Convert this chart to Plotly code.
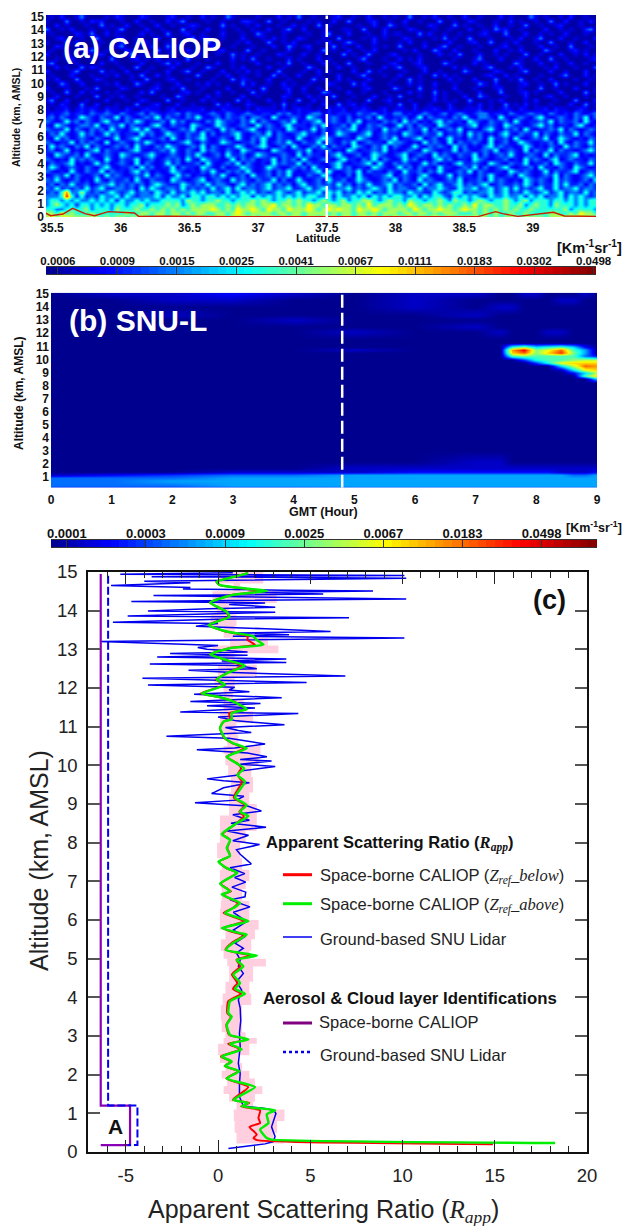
import plotly.graph_objects as go

W, H = 624, 1226
SANS = "Liberation Sans"
SERIF = "Liberation Serif"

# ---------- panel (a): attenuated backscatter, level per cell ----------
a_levels = """
0102001300 0010210002 1000120010 0201003100 0010002010 3001000120 0100200101 0030010200 1002001000 2010003101 0010200100
1000300102 1200010020 0100201300 0010010002 2100300100 0010100200 3000120010 0200100030 0100210001 0020100100 3002001020
0020100010 0301002001 0020010012 1000030100 1020001002 0100301000 0010020031 0100002100 0301001002 0010030010 0120001000
3001020001 0010130000 2001000301 0020010010 0100200130 0200010001 1003000200 0021000100 1000200103 1200100002 0010100230
0100002103 0020100002 0100300120 0100020001 0031000100 0010013000 2000100201 1000302001 0010001200 0300020010 1002000100
0012000100 3000120010 0020010003 0210010002 0001020100 2100010030 0001020100 0210000103 0100300010 0010200130 0020010002
1000302000 0100020013 1000100200 0030100010 2000300102 0000102001 3100020000 1020010000 2000120030 0102000100 3000100200
0021001000 2000130010 0200301000 1002000100 0100020031 0120000301 0020010100 3000020013 0010001000 1200100020 0100300010
0100200103 0010002100 0030100020 0100120000 3001000020 0010030100 2001020000 0102000310 0200010002 0010200003 1000120100
2000300010 1200000301 0100020001 2000100301 0010002100 0200100003 0100300012 0000100020 1030002001 0100030010 0020010201
0010120001 0003000120 1020010030 0010000201 0300100020 1000201000 0013000100 2010200000 0100013000 2000100200 3001000012
1300001000 0200100002 0001302000 1000200100 0020001030 0100020100 3000100012 0001200003 1000020100 0003100020 0100200100
0020100302 1000010030 0100020001 0031000102 0000200100 0031000020 0100000201 3000120000 0201000130 0010200001 0200010003
2000013000 0301002000 1000200130 0100020010 2010003000 0100201000 0200301000 0100020010 0003100002 1000130000 2001000200
0100020001 0010200103 0020100000 3000102001 0010030100 2000100020 0013000100 2000100302 0100000120 0201000010 0013000201
1020003000 2100000100 3000120010 0001000302 1000200010 0003010020 1000200001 0030100000 2010020003 0010300100 2000010010
0003100200 0010200031 0010002000 1020100003 0200100201 0010002100 0302000010 0020100200 0100003102 0000120010 0301000200
2000100010 3000021000 0120010300 0100002000 1003000120 0200100010 0001200003 1000300100 0200010001 2000100030 0100020001
0100300201 0010100002 0300000120 1000200100 0301000020 0100032000 2001000100 0020100301 0010002000 3000120100 0020000301
0020001000 3001020010 0001003100 0020100002 0010000210 0020100300 0100020010 3000100201 0002003100 0100020001 2001000100
1300200010 0020001002 1000300100 0201000030 1000200100 3002010000 1000300120 0010000201 0100300010 2000010200 0100030002
0102100300 2000100030 0120002001 0000302000 2100010301 0010020030 1201000010 3002001000 2000102010 0301020100 1000200301
1011201212 1021102101 2110120111 1201021110 1021110201 2110102112 0112101201 1102011210 2101112010 1210210112 0211012101
1212312213 2232132123 1321223132 2123213212 3212213231 2123312122 2132231213 3121232123 1232123312 2132123221 3212132123
2313212432 1322413212 3241322132 4212313223 1332142123 2143212321 3122314212 2312413222 1324213321 4212321342 1232132413
3212423132 1342213243 1223142312 2132432213 2413212324 1223412321 3241221323 1423121342 3221432132 2314212232 4132231421
2143212332 4123241322 1342132214 3212432123 2142321342 2213241223 1421323212 4231322143 2122341232 1432212342 3122134212
3222413213 2314221342 4213212324 1232142312 3421322143 1224131232 3412321423 2132241312 3241221342 1323142122 3241321232
1324212423 1242312214 2312432132 2413122342 1232413212 3422131243 2123412322 1432132241 2231423121 3421322413 2132241321
2142312321 3212412342 1223142132 3421232142 1324213221 4212343212 2143212324 1223412312 4221323142 2314212324 1243212132
3212241323 2141232132 4312212342 1321243212 2314123242 1322413213 2412322143 3212142321 4132232141 2312432122 3142132241
1423213241 3212323142 2132432123 2413212243 1234212314 2123241322 1432132413 2124213232 1423121342 3221243121 3214232132
2312412123 4132212342 1223242132 1423213214 3212143212 3241223121 4312232412 1232143212 2413212324 1232141322 4132212342
2143223142 1232143212 3421232132 4212314223 1243212321 4132212342 1231243212 3412321423 2132241312 3242123214 1322341212
3212142323 2142132241 2312323142 1432212413 2312241323 1421232134 2213241321 2423121342 3122143212 2312142321 3412322132
1322341212 4231232141 3212423122 3142123241 3212142322 4132212342 1223414213 2321242312 1342232143 2132241223 1432132241
2431232132 1342122314 2312241322 1432131224 3212432123 2314221342 3122143212 4231322142 2123241312 3421223142 2132143212
3212142132 2413221342 3121243212 1324213232 4212313242 1223414212 3241322132 1422313242 1232413212 2143232124 1322341232
1232413212 3142321232 4132124231 2213242123 1422313241 2132243121 3142122341 2321342122 4132213242 1231432123 2413212342
3242123121 4213223142 1322143212 3412321423 2132241312 4212314223 1243212324 1321423212 3241223142 3212143232 1423212314
2313242231 2334232323 1343222432 3242332134 2323423231 3422323242 3132422342 3223142342 2342323412 3223243132 2424223132
3242323242 3422332314 2432332423 2324234242 3323423342 2342343233 4232343242 3322423343 2243342342 3424232342 2423342332
2324733532 3234323423 3243242334 3423324234 3423234323 4233424342 3243423243 3243322432 3442323342 3423243234 2342332423
3334842423 2433424323 3342433424 4344343434 4243434343 4344334243 3434243434 4334243443 2434343243 3433424342 3342434323
3443434334 3434243343 4334444354 4344544344 4545434454 5443454345 3445543454 4354434454 3544345434 4543453444 3443434344
3454342443 4343443445 3444545345 4555445454 5545564554 5465545545 5454645554 5465455454 5445464554 4544534544 3544434344
4433444453 4443544454 4545454545 5556545465 5654655465 5565456565 5465565455 5546545565 5456554545 4545445444 4445344443
5546454445 4444445445 5455455454 5544554565 4555545545 5455554545 5455454555 4554554545 5544454545 4454454444 5544546554
5655655555 5454554555 4455455545 5455554555 5545554555 5455455545 5455554545 5455545554 5455555545 4555455554 5565565555
"""

a_level_z = [-7.5, -7.2, -6.95, -6.55, -5.75, -5.2, -4.7, -4.3, -3.8, -3.4]   # ln(beta) per level
a_z_min, a_z_max = -7.6, -2.98
a_tick_vals = [-7.5, -7.0, -6.5, -6.0, -5.5, -5.0, -4.5, -4.0, -3.5, -3.0]
a_tick_text = ["0.0006", "0.0009", "0.0015", "0.0025", "0.0041", "0.0067", "0.0111", "0.0183", "0.0302", "0.0498"]
a_x_ticks = [35.5, 36, 36.5, 37, 37.5, 38, 38.5, 39]
a_x_text = ["35.5", "36", "36.5", "37", "37.5", "38", "38.5", "39"]
terrain_lat = [35.45, 35.49, 35.58, 35.65, 35.74, 35.81, 35.91, 35.99, 36.10, 36.13, 36.33, 36.8, 37.5, 38.19, 38.6, 38.73, 38.78, 38.89, 39.0, 39.15, 39.23, 39.46]
terrain_alt = [0.30, 0.10, 0.22, 0.65, 0.25, 0.10, 0.40, 0.35, 0.30, 0.05, 0.06, 0.02, 0.02, 0.06, 0.03, 0.40, 0.25, 0.05, 0.20, 0.35, 0.08, 0.05]

# ---------- panel (b): SNU lidar ----------
b_hours = [0, 1, 2, 3, 4, 5, 6, 7, 7.4, 7.6, 7.8, 8.0, 8.2, 8.4, 8.6, 8.8, 9.0]
b_alts = [0.2, 0.35, 0.7, 1.0, 1.2, 1.4, 1.7, 2.2, 3, 5, 7, 8.25, 8.5, 8.75, 9.0, 9.25, 9.5, 9.75, 10.0, 10.25, 10.5, 10.75, 11.0, 11.25, 11.6, 12.1, 12.5, 13.0, 13.4, 14.0, 14.6, 15.0]
b_levels = [
    [2, 2, 2, 2, 2, 3, 3, 3, 3, 3, 3, 3, 3, 3, 3, 3, 3],
    [4, 4, 4, 5, 5, 5, 5, 5, 5, 5, 5, 5, 5, 5, 5, 5, 5],
    [4, 4, 5, 5, 5, 5, 5, 5, 5, 5, 5, 5, 5, 5, 5, 5, 5],
    [4, 4, 4, 5, 5, 5, 5, 5, 5, 5, 5, 5, 5, 5, 5, 5, 5],
    [1, 2, 3, 4, 4, 5, 5, 5, 5, 5, 5, 5, 5, 5, 4, 4, 5],
    [0, 0, 0, 1, 1, 1, 2, 2, 2, 2, 2, 2, 2, 1, 1, 1, 2],
    [0, 0, 0, 0, 0, 1, 1, 1, 1, 1, 1, 1, 1, 1, 1, 1, 1],
    [0, 0, 0, 0, 0, 0, 0, 1, 1, 0, 0, 0, 0, 0, 0, 0, 0],
    [0, 0, 0, 0, 0, 0, 0, 0, 0, 0, 0, 0, 0, 0, 0, 0, 0],
    [0, 0, 0, 0, 0, 0, 0, 0, 0, 0, 0, 0, 0, 0, 0, 0, 0],
    [0, 0, 0, 0, 0, 0, 0, 0, 0, 0, 0, 0, 0, 0, 0, 0, 0],
    [0, 0, 0, 0, 0, 0, 0, 0, 0, 0, 0, 0, 0, 0, 0, 0, 0],
    [0, 0, 0, 0, 0, 0, 0, 0, 0, 0, 0, 0, 0, 0, 0, 0, 6],
    [0, 0, 0, 0, 0, 0, 0, 0, 0, 0, 0, 0, 0, 0, 0, 8, 12],
    [0, 0, 0, 0, 0, 0, 0, 0, 0, 0, 0, 0, 0, 0, 2, 6, 10],
    [0, 0, 0, 0, 0, 0, 0, 0, 0, 0, 0, 0, 0, 1, 6, 11, 12],
    [0, 0, 0, 0, 0, 0, 0, 0, 0, 0, 0, 0, 0, 6, 10, 14, 13],
    [0, 0, 0, 0, 0, 0, 0, 0, 0, 0, 0, 3, 7, 11, 12, 12, 12],
    [0, 0, 0, 0, 0, 0, 0, 0, 0, 0, 3, 7, 8, 8, 9, 10, 10],
    [0, 0, 0, 0, 0, 0, 0, 0, 0, 8, 9, 8, 8, 8, 8, 4, 2],
    [0, 0, 0, 0, 0, 0, 0, 0, 0, 12, 14, 9, 12, 15, 9, 5, 0],
    [0, 0, 0, 0, 0, 1, 0, 0, 0, 13, 16, 9, 11, 14, 8, 5, 0],
    [0, 0, 0, 0, 0, 0, 0, 0, 0, 7, 9, 6, 7, 8, 6, 2, 0],
    [0, 0, 0, 0, 0, 0, 0, 0, 0, 0, 0, 0, 0, 0, 0, 0, 0],
    [0, 0, 0, 0, 0, 0, 0, 0, 0, 0, 0, 0, 0, 0, 0, 0, 0],
    [0, 0, 0, 0, 0, 1, 0, 0, 1, 0, 0, 0, 1, 1, 0, 0, 0],
    [0, 0, 0, 0, 0, 0, 0, 1, 0, 0, 0, 0, 0, 0, 0, 0, 0],
    [0, 0, 0, 0, 1, 0, 0, 0, 0, 0, 0, 0, 0, 0, 0, 0, 0],
    [0, 0, 1, 0, 0, 0, 0, 1, 0, 0, 0, 0, 0, 0, 0, 0, 0],
    [0, 0, 0, 0, 0, 0, 1, 0, 1, 1, 0, 0, 0, 0, 0, 0, 0],
    [0, 0, 1, 1, 0, 0, 1, 0, 0, 0, 0, 0, 0, 1, 1, 0, 0],
    [0, 1, 1, 2, 1, 0, 1, 1, 0, 0, 1, 1, 0, 0, 0, 1, 0],
]
b_level_z0 = -9.2
b_level_step = 0.375
b_z_min, b_z_max = -9.2, -2.3
b_tick_vals = [-9, -8, -7, -6, -5, -4, -3]
b_tick_text = ["0.0001", "0.0003", "0.0009", "0.0025", "0.0067", "0.0183", "0.0498"]
b_x_ticks = [0, 1, 2, 3, 4, 5, 6, 7, 8, 9]
b_y_ticks = list(range(1, 16))

# ---------- panel (c): profiles ----------
snu_alt = [14.98, 14.94, 14.91, 14.88, 14.84, 14.79, 14.76, 14.72, 14.65, 14.6, 14.56, 14.53, 14.51, 14.47, 14.43, 14.39, 14.3, 14.24, 14.2, 14.16, 14.13, 14.09, 14.05, 13.99, 13.96, 13.9, 13.86, 13.82, 13.78, 13.7, 13.67, 13.6, 13.56, 13.53, 13.46, 13.42, 13.38, 13.34, 13.29, 13.24, 13.2, 13.13, 13.1, 13.05, 13.0, 12.93, 12.89, 12.85, 12.8, 12.75, 12.7, 12.66, 12.62, 12.58, 12.5, 12.46, 12.4, 12.31, 12.27, 12.25, 12.14, 12.08, 12.02, 11.95, 11.9, 11.84, 11.75, 11.65, 11.6, 11.54, 11.48, 11.38, 11.34, 11.25, 11.15, 11.05, 10.98, 10.9, 10.85, 10.75, 10.7, 10.55, 10.45, 10.4, 10.32, 10.22, 10.15, 10.11, 10.03, 9.97, 9.85, 9.75, 9.65, 9.6, 9.55, 9.42, 9.27, 9.2, 9.1, 9.03, 8.95, 8.82, 8.72, 8.58, 8.5, 8.4, 8.3, 8.19, 8.05, 7.95, 7.82, 7.7, 7.45, 7.35, 7.2, 7.1, 6.98, 6.85, 6.72, 6.6, 6.52, 6.34, 6.2, 5.96, 5.74, 5.57, 5.4, 5.27, 5.15, 4.97, 4.8, 4.62, 4.4, 4.19, 3.93, 3.72, 3.4, 3.07, 2.72, 2.29, 2.03, 1.77, 1.43, 1.19, 1.13, 1.08, 1.0, 0.65, 0.4, 0.27, 0.21, 0.14, 0.09]
snu_x = [0.8, -5.3, 10.1, -3.6, 10.2, 0.2, -4.0, -1.5, -5.8, -1.5, -1.9, 3.5, 8.4, 2.0, 5.7, -3.5, 10.2, -4.7, 2.55, 0.6, 1.6, 3.1, -0.5, -3.8, 3.1, -1.0, -4.9, 7.1, 0.0, -5.7, 0.0, -1.2, 1.6, 2.6, 6.1, 1.0, 3.85, 0.8, 10.1, -0.5, -6.4, -1.9, 0.0, -1.1, -0.6, 1.6, -2.6, 1.6, -3.3, 3.7, 0.2, 3.7, -3.7, 1.0, 2.1, -1.6, 0.8, 6.9, -0.2, -4.1, 4.8, -3.8, 0.9, 0.6, 1.7, -1.3, 3.45, -1.5, 2.3, -0.6, 2.0, -2.05, 4.35, 0.0, 1.0, 3.6, 0.4, 1.1, 1.8, -2.8, 0.6, 2.55, 0.9, -1.15, 1.6, 2.65, 1.2, 2.9, 1.2, 3.1, 1.2, 1.1, -0.6, 0.3, 1.7, 0.3, -0.35, 1.4, 1.0, -1.25, 1.6, 2.35, 0.8, 1.7, 0.7, 2.6, 0.5, 1.65, 0.8, 2.25, 1.0, 1.2, 1.8, 0.65, 1.45, 0.9, 1.5, 0.75, 1.5, 1.46, 0.65, 1.73, 0.83, 1.55, 0.83, 1.46, 0.92, 1.37, 1.0, 1.2, 1.1, 1.37, 1.0, 1.28, 1.1, 1.2, 1.23, 1.16, 1.2, 1.1, 1.2, 1.16, 1.16, 1.37, 2.46, 3.0, 3.14, 2.9, 3.09, 3.0, 2.55, 1.55, 0.56]

above_alt = [14.97, 14.88, 14.75, 14.66, 14.51, 14.41, 14.21, 13.97, 13.84, 13.63, 13.46, 13.34, 13.24, 13.12, 13.03, 12.87, 12.72, 12.58, 12.38, 12.22, 12.08, 11.86, 11.76, 11.65, 11.45, 11.35, 11.19, 11.13, 10.96, 10.70, 10.57, 10.44, 10.22, 10.05, 9.92, 9.75, 9.58, 9.17, 8.97, 8.80, 8.69, 8.50, 8.22, 8.07, 7.86, 7.66, 7.51, 7.34, 7.22, 6.94, 6.74, 6.66, 6.44, 6.31, 6.18, 5.97, 5.79, 5.66, 5.62, 5.41, 5.23, 5.08, 4.97, 4.80, 4.59, 4.37, 4.22, 4.09, 3.90, 3.59, 3.50, 3.29, 3.03, 2.91, 2.80, 2.65, 2.47, 2.34, 2.22, 2.09, 1.90, 1.68, 1.35, 1.27, 1.18, 1.08, 0.97, 0.75, 0.58, 0.36, 0.32, 0.23]
above_x = [1.64, 0.92, -0.07, 0.11, 2.64, 0.83, -0.43, 0.47, 0.61, -0.52, 0.47, 1.9, 2.1, 2.46, 0.65, -0.43, 0.47, 1.46, 0.47, -0.07, 0.38, -0.89, 0.11, 0.83, 1.55, 0.74, 0.74, 0.29, 0.11, 0.38, 0.83, 1.55, 0.47, 1.01, 1.41, 1.05, 1.46, 0.92, 1.55, 1.19, 1.64, 1.01, 0.2, 0.65, 0.47, 0.65, 0.02, 0.47, 1.05, 0.11, 0.65, 0.2, 1.19, 0.83, 0.38, 1.64, 0.2, 1.19, 1.55, 0.83, 0.43, 2.1, 1.01, 1.37, 0.83, 1.19, 0.92, 1.46, 0.65, 0.56, 0.74, 0.47, 0.65, 1.64, 0.65, 1.28, 0.2, 0.74, 0.38, 1.16, 0.47, 2.0, 0.83, 1.64, 1.28, 3.09, 2.64, 2.73, 2.28, 2.64, 2.9, 18.27]

below_alt = [14.97, 14.88, 14.75, 14.66, 14.51, 14.41, 14.21, 13.97, 13.84, 13.63, 13.46, 13.34, 13.24, 13.12, 13.03, 12.87, 12.72, 12.58, 12.38, 12.22, 12.08, 11.86, 11.76, 11.65, 11.45, 11.35, 11.19, 11.13, 10.96, 10.70, 10.57, 10.44, 10.22, 10.05, 9.92, 9.75, 9.58, 9.17, 8.97, 8.80, 8.69, 8.50, 8.22, 8.07, 7.86, 7.66, 7.51, 7.34, 7.22, 6.94, 6.74, 6.66, 6.44, 6.31, 6.18, 5.97, 5.79, 5.66, 5.62, 5.41, 5.23, 5.08, 4.97, 4.80, 4.59, 4.37, 4.22, 4.09, 3.90, 3.59, 3.50, 3.29, 3.03, 2.91, 2.80, 2.65, 2.47, 2.34, 2.22, 2.09, 1.90, 1.68, 1.35, 1.27, 1.18, 1.08, 0.88, 0.75, 0.65, 0.45, 0.36, 0.30, 0.20]
below_x = [1.6, 0.9, -0.1, 0.1, 2.3, 0.8, -0.45, 0.45, 0.55, -0.5, 0.4, 1.6, 1.6, 2.0, 0.6, -0.45, 0.45, 1.25, 0.45, -0.1, 0.35, -0.95, 0.1, 0.85, 1.5, 0.6, 0.65, 0.3, 0.1, 0.35, 0.8, 1.4, 0.45, 1.05, 1.25, 1.05, 1.3, 0.85, 1.45, 1.15, 1.4, 1.0, 0.25, 0.65, 0.5, 0.65, 0.05, 0.45, 1.0, 0.15, 0.7, 0.25, 1.05, 0.8, 0.3, 1.4, 0.25, 1.0, 1.45, 0.75, 0.4, 1.73, 1.0, 1.2, 0.75, 1.05, 0.8, 1.25, 0.55, 0.5, 0.7, 0.45, 0.6, 1.6, 0.55, 1.2, 0.15, 0.7, 0.35, 1.1, 0.45, 1.64, 0.8, 1.7, 1.25, 2.28, 2.19, 2.28, 1.7, 2.1, 1.92, 2.19, 14.9]

band_alt = [0.22, 0.28, 0.5, 0.8, 1.1, 1.3, 1.5, 1.7, 1.9, 2.1, 2.3, 2.5, 2.8, 2.95, 3.1, 3.4, 3.8, 4.1, 4.4, 4.8, 5.0, 5.2, 5.5, 5.75, 6.0, 6.3, 6.5, 6.8, 7.0, 7.3, 7.6, 8.0, 8.3, 8.7, 9.0, 9.3, 9.7, 10.0, 10.3, 10.5, 10.8, 11.0, 11.1, 11.4, 11.7, 12.0, 12.3, 12.6, 12.9, 13.1, 13.3, 13.6, 13.9, 14.2, 14.5, 14.7, 15.0]
band_left = [1.0, 1.0, 0.9, 0.85, 1.0, 0.6, 0.3, 0.5, 0.2, 0.4, 0.1, 0.0, 0.3, 0.4, 0.2, 0.15, 0.25, 0.4, 0.6, 0.5, 0.3, 0.15, 0.4, 0.1, 0.1, 0.15, 0.2, 0.15, 0.1, 0.2, -0.05, 0.1, 0.1, 0.6, 0.6, 0.7, 0.55, 0.4, 0.3, 0.5, 0.2, 0.1, 0.1, 0.3, 0.3, -0.2, 0.0, 0.3, -0.3, 0.65, 0.3, -0.4, -0.07, -0.3, 0.83, 0.0, 0.3]
band_right = [15.0, 3.6, 3.0, 3.2, 3.6, 1.9, 2.0, 2.4, 2.0, 1.7, 1.3, 1.1, 1.7, 2.1, 1.5, 1.3, 1.3, 1.8, 1.7, 1.9, 2.6, 1.7, 1.8, 2.0, 2.2, 1.7, 1.7, 1.3, 1.5, 1.7, 1.3, 1.2, 1.5, 2.1, 2.1, 1.7, 1.9, 1.8, 2.2, 2.3, 1.1, 1.0, 1.0, 1.9, 1.4, 0.8, 0.9, 2.1, 0.9, 3.27, 2.7, 0.9, 1.0, 0.6, 3.18, 1.2, 2.45]

caliop_layer_x = [-6.36, -6.36, -4.77, -4.77, -6.36]
caliop_layer_alt = [14.95, 1.2, 1.2, 0.18, 0.18]
snu_layer_x = [-5.96, -5.96, -4.37, -4.37, -4.9]
snu_layer_alt = [14.9, 1.2, 1.2, 0.18, 0.18]
c_y_ticks = list(range(0, 16))
c_x_ticks = [-5, 0, 5, 10, 15, 20]
c_x_text = ["-5", "0", "5", "10", "15", "20"]

# ---------- helpers: pixel placement in the 624x1226 window ----------
def dom_x(a, b):
    return [a / W, b / W]

def dom_y(top, bottom):
    return [1 - bottom / H, 1 - top / H]

def bold(values):
    return ["<b>%s</b>" % v for v in values]

JET = [[0, "#00008f"], [0.11, "#0000ff"], [0.36, "#00ffff"], [0.61, "#ffff00"], [0.86, "#ff0000"], [1, "#800000"]]

rows = ["".join(r.split()) for r in a_levels.strip().splitlines()]
n_cols = min(len(r) for r in rows)
a_z = [[a_level_z[int(c)] for c in r[:n_cols]] for r in rows]
n_rows = len(a_z)
a_dy = 15.0 / (n_rows - 1)
b_z = [[b_level_z0 + b_level_step * v for v in r] for r in b_levels]

def bar_steps(lo, hi, n=64):
    return [lo + (i + 0.5) * (hi - lo) / n for i in range(n)]

fig = go.Figure()

fig.add_trace(go.Heatmap(
    z=a_z, x0=35.456, dx=(39.46 - 35.456) / (n_cols - 1), y0=15.0, dy=-a_dy, zsmooth="best",
    colorscale=JET, zmin=a_z_min, zmax=a_z_max, xaxis="x", yaxis="y", hoverinfo="skip", showscale=False))
fig.add_trace(go.Scatter(x=terrain_lat, y=terrain_alt, mode="lines", line=dict(color="#c81e00", width=1.4),
                         xaxis="x", yaxis="y", showlegend=False, hoverinfo="skip"))
fig.add_trace(go.Scatter(x=[37.5, 37.5], y=[0, 15.1], mode="lines", line=dict(color="white", width=2.5, dash="13px,5px"),
                         xaxis="x", yaxis="y", showlegend=False, hoverinfo="skip"))

fig.add_trace(go.Heatmap(
    z=b_z, x=b_hours, y=b_alts, zsmooth="best", colorscale=JET, zmin=b_z_min, zmax=b_z_max,
    xaxis="x2", yaxis="y2", hoverinfo="skip", showscale=False))
fig.add_trace(go.Scatter(x=[4.8, 4.8], y=[0.2, 15.1], mode="lines", line=dict(color="white", width=2.5, dash="13px,5px"),
                         xaxis="x2", yaxis="y2", showlegend=False, hoverinfo="skip"))

# colour keys
a_steps = bar_steps(a_z_min, a_z_max)
b_steps = bar_steps(b_z_min, b_z_max)
fig.add_trace(go.Heatmap(z=[a_steps], x=a_steps, y=[0.5], colorscale=JET, zmin=a_z_min, zmax=a_z_max,
                         xaxis="x4", yaxis="y4", hoverinfo="skip", showscale=False))
fig.add_trace(go.Heatmap(z=[b_steps], x=b_steps, y=[0.5], colorscale=JET, zmin=b_z_min, zmax=b_z_max,
                         xaxis="x5", yaxis="y5", hoverinfo="skip", showscale=False))

fig.add_trace(go.Scatter(x=band_left + band_right[::-1], y=band_alt + band_alt[::-1], mode="lines", fill="toself",
                         fillcolor="#ffcfe0", line=dict(width=0, shape="vh"), xaxis="x3", yaxis="y3",
                         showlegend=False, hoverinfo="skip"))
fig.add_trace(go.Scatter(x=snu_x, y=snu_alt, mode="lines", line=dict(color="#0000ee", width=1.5), xaxis="x3", yaxis="y3",
                         showlegend=False, hoverinfo="skip"))
fig.add_trace(go.Scatter(x=below_x, y=below_alt, mode="lines", line=dict(color="#ff0000", width=2, shape="spline", smoothing=0.5), xaxis="x3", yaxis="y3",
                         showlegend=False, hoverinfo="skip"))
fig.add_trace(go.Scatter(x=above_x, y=above_alt, mode="lines", line=dict(color="#00ee00", width=2.5, shape="spline", smoothing=0.5), xaxis="x3", yaxis="y3",
                         showlegend=False, hoverinfo="skip"))
fig.add_trace(go.Scatter(x=caliop_layer_x, y=caliop_layer_alt, mode="lines", line=dict(color="#8a00b8", width=2.2), xaxis="x3", yaxis="y3",
                         showlegend=False, hoverinfo="skip"))
fig.add_trace(go.Scatter(x=snu_layer_x, y=snu_layer_alt, mode="lines", line=dict(color="#0000ee", width=2, dash="8px,3px"), xaxis="x3", yaxis="y3",
                         showlegend=False, hoverinfo="skip"))

def text(x, y, s, size, bold_=False, color="#111111", anchor="left", angle=0, family=SANS):
    fig.add_annotation(xref="paper", yref="paper", x=x / W, y=1 - y / H, text=("<b>%s</b>" % s) if bold_ else s, showarrow=False,
                       xanchor=anchor, yanchor="middle", textangle=angle, borderpad=0,
                       font=dict(family=family, size=size, color=color))

text(62, 47, "(a) CALIOP", 30, True, "white")
text(68, 320, "(b) SNU-L", 30, True, "white")
text(16, 118, "Altitude (km, AMSL)", 10.5, True, anchor="center", angle=-90)
text(19, 393, "Altitude (km, AMSL)", 12, True, anchor="center", angle=-90)
text(318, 238, "Latitude", 11.5, True, anchor="center")
text(323, 512, "GMT (Hour)", 12.5, True, anchor="center")
text(623, 247, "[Km<sup>-1</sup>sr<sup>-1</sup>]", 14.5, True, anchor="right")
text(623, 527, "[Km<sup>-1</sup>sr<sup>-1</sup>]", 12.5, True, anchor="right")

text(39, 861, "Altitude (km, AMSL)", 25, anchor="center", angle=-90, color="#222222")
serif_i = '<span style="font-family:Liberation Serif"><i>%s</i></span>'
text(147, 1211, "Apparent Scattering Ratio (" + serif_i % "R<sub>app</sub>" + ")", 25, color="#222222")
text(532, 600, "(c)", 27, True)
text(107, 1126, "A", 21, True)

text(265, 843.5, "Apparent Scattering Ratio (" + serif_i % "R<sub>app</sub>" + ")", 16.5, True)
text(319, 876, "Space-borne CALIOP (" + serif_i % "Z<sub>ref</sub>_below" + ")", 16.5, color="#222222")
text(319, 905, "Space-borne CALIOP (" + serif_i % "Z<sub>ref</sub>_above" + ")", 16.5, color="#222222")
text(319, 939, "Ground-based SNU Lidar", 16.5, color="#222222")
text(262, 998, "Aerosol &amp; Cloud layer Identifications", 16.8, True)
text(318, 1022, "Space-borne CALIOP", 16.5, color="#222222")
text(319, 1055, "Ground-based SNU Lidar", 16.5, color="#222222")

def key(y, color, width, dash="solid"):
    fig.add_shape(type="line", xref="paper", yref="paper", x0=283 / W, x1=312 / W, y0=1 - y / H, y1=1 - y / H,
                  line=dict(color=color, width=width, dash=dash))

key(874.7, "#ff0000", 3)
key(903.7, "#00ee00", 3)
key(937, "#0000ee", 1.5)
key(1023, "#800080", 3)
key(1052, "#0000ee", 2.5, "dot")

f12 = dict(family=SANS, size=12, color="#111111")
c_font = dict(family=SANS, size=18.5, color="#222222")
bar_axis = dict(side="top", ticks="inside", ticklen=7, tickwidth=1, tickcolor="#333333", showgrid=False, zeroline=False,
                showline=True, linecolor="#333333", linewidth=1, mirror=True, ticklabelstandoff=-4)
fig.update_layout(
    width=W, height=H, margin=dict(l=0, r=0, t=0, b=0, autoexpand=False), paper_bgcolor="white", plot_bgcolor="white", showlegend=False,
    xaxis=dict(domain=dom_x(46, 596), range=[35.456, 39.46], tickvals=a_x_ticks, ticktext=bold(a_x_text), tickfont=f12,
               ticks="", showgrid=False, zeroline=False, ticklabelstandoff=2, anchor="y"),
    yaxis=dict(domain=dom_y(15, 217), range=[0, 15.13], tickvals=list(range(16)), ticktext=bold(range(16)), tickfont=f12,
               ticks="", showgrid=False, zeroline=False, ticklabelstandoff=1, anchor="x"),
    xaxis2=dict(domain=dom_x(51, 597), range=[0, 9], tickvals=b_x_ticks, ticktext=bold(b_x_ticks), tickfont=f12,
                ticks="", showgrid=False, zeroline=False, ticklabelstandoff=3, anchor="y2"),
    yaxis2=dict(domain=dom_y(292.7, 487.7), range=[0.2, 15.1], tickvals=b_y_ticks, ticktext=bold(b_y_ticks), tickfont=f12,
                ticks="", showgrid=False, zeroline=False, ticklabelstandoff=1, anchor="x2"),
    xaxis3=dict(domain=dom_x(88, 587), range=[-7.05, 20], tickvals=c_x_ticks, ticktext=c_x_text, tickfont=c_font,
                ticks="inside", ticklen=12, tickwidth=1.2, tickcolor="#222222", showgrid=False, zeroline=False,
                showline=True, linecolor="#111111", linewidth=1.5, mirror="allticks",
                minor=dict(dtick=1, tick0=0, ticks="inside", ticklen=6, tickwidth=1, tickcolor="#222222"),
                ticklabelstandoff=6, anchor="y3"),
    yaxis3=dict(domain=dom_y(572, 1152), range=[0, 15], tickvals=c_y_ticks, tickfont=c_font,
                ticks="inside", ticklen=12, tickwidth=2, tickcolor="#555555", showgrid=False, zeroline=False,
                showline=True, linecolor="#111111", linewidth=1.5, mirror="allticks",
                ticklabelstandoff=5, anchor="x3"),
    xaxis4=dict(domain=dom_x(46, 596), range=[a_z_min, a_z_max], tickvals=a_tick_vals, ticktext=bold(a_tick_text),
                tickfont=dict(family=SANS, size=11.5, color="#111111"), anchor="y4", **bar_axis),
    yaxis4=dict(domain=dom_y(267, 274), range=[0, 1], visible=False, anchor="x4"),
    xaxis5=dict(domain=dom_x(51, 597), range=[b_z_min, b_z_max], tickvals=b_tick_vals, ticktext=bold(b_tick_text),
                tickfont=dict(family=SANS, size=13, color="#111111"), anchor="y5", **bar_axis),
    yaxis5=dict(domain=dom_y(540, 547), range=[0, 1], visible=False, anchor="x5"),
)

fig.write_html("out.html", post_script="document.body.style.margin='0';", config=dict(displayModeBar=False))
